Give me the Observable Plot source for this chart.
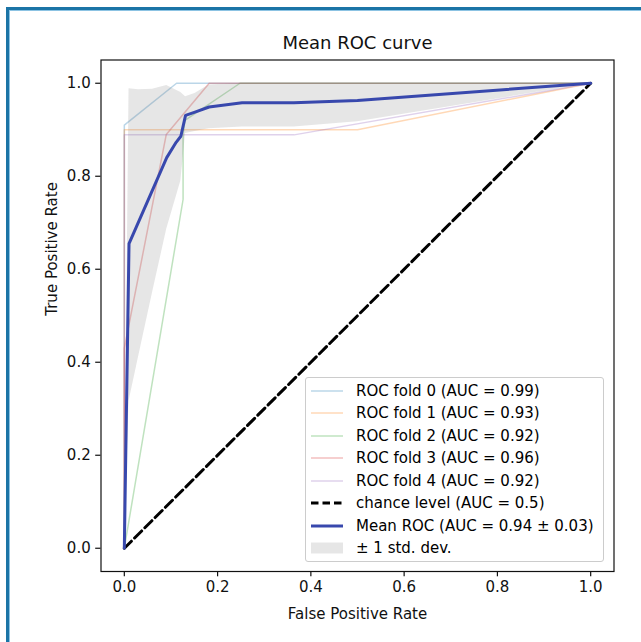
<!DOCTYPE html>
<html>
<head>
<meta charset="utf-8">
<script src="https://cdn.jsdelivr.net/npm/d3@7"></script>
<script src="https://cdn.jsdelivr.net/npm/@observablehq/plot@0.6"></script>
<style>
  html, body { margin: 0; padding: 0; background: #fff; }
  #wrap { position: relative; width: 641px; height: 642px; overflow: hidden; font-family: "DejaVu Sans", sans-serif; }
  #border { position: absolute; left: 6px; top: 7px; width: 700px; height: 700px;
            border-top: 3px solid #1b74a6; border-left: 3px solid #1b74a6; box-sizing: border-box; }
  #border2 { position: absolute; left: 9px; top: 10px; width: 700px; height: 700px;
            border-top: 1px solid #8cc3e3; border-left: 1px solid #8cc3e3; box-sizing: border-box; }
  #chart { position: absolute; left: 0; top: 0; }
  #legend { position: absolute; left: 305px; top: 377px; width: 299px; height: 185px; box-sizing: border-box;
            border: 1px solid #cccccc; border-radius: 3px; background: rgba(255,255,255,0.8);
            font-size: 15px; color: #000; }
  .row { position: absolute; left: 0; height: 22px; display: flex; align-items: center; white-space: nowrap; }
  .row svg { margin-left: 5px; margin-right: 13px; }
</style>
</head>
<body>
<div id="wrap">
  <div id="chart"></div>
  <div id="legend"></div>
  <div id="border"></div>
  <div id="border2"></div>
</div>
<script>
// ---- data ----
const titleText = "Mean ROC curve";
const xLabel = "False Positive Rate";
const yLabel = "True Positive Rate";
const tickValues = [0, 0.2, 0.4, 0.6, 0.8, 1.0];

const fold0Fpr = [0, 0, 0.112, 1];
const fold0Tpr = [0, 0.91, 1, 1];
const fold1Fpr = [0, 0, 0.5, 1];
const fold1Tpr = [0, 0.9, 0.9, 1];
const fold2Fpr = [0, 0.126, 0.126, 0.13, 0.248, 1];
const fold2Tpr = [0, 0.75, 0.89, 0.92, 1, 1];
const fold3Fpr = [0, 0, 0.09, 0.182, 1];
const fold3Tpr = [0, 0.43, 0.89, 1, 1];
const fold4Fpr = [0, 0, 0.364, 1];
const fold4Tpr = [0, 0.889, 0.889, 1];

const foldNames = ["ROC fold 0 (AUC = 0.99)", "ROC fold 1 (AUC = 0.93)", "ROC fold 2 (AUC = 0.92)",
                   "ROC fold 3 (AUC = 0.96)", "ROC fold 4 (AUC = 0.92)"];
const foldColors = ["#1f77b4", "#ff7f0e", "#2ca02c", "#d62728", "#9467bd"];

const chanceFpr = [0, 1];
const chanceTpr = [0, 1];
const chanceName = "chance level (AUC = 0.5)";

const meanFpr = [0, 0.0101, 0.0909, 0.1111, 0.1212, 0.1313, 0.1515, 0.1818, 0.2525, 0.3636, 0.5, 1];
const meanTpr = [0, 0.655, 0.84, 0.873, 0.886, 0.931, 0.938, 0.949, 0.958, 0.958, 0.963, 1];
const meanName = "Mean ROC (AUC = 0.94 \u00b1 0.03)";

const bandFpr   = [0, 0.0101, 0.0303, 0.0606, 0.0909, 0.1212, 0.1313, 0.1515, 0.1818, 0.2525, 0.3636, 0.5, 0.75, 1];
const bandLower = [0, 0.316, 0.41, 0.55, 0.686, 0.79, 0.892, 0.896, 0.902, 0.906, 0.906, 0.917, 0.958, 1];
const bandUpper = [0, 0.988, 0.986, 0.987, 0.995, 0.98, 0.971, 0.978, 0.996, 1, 1, 1, 1, 1];
const bandName = "\u00b1 1 std. dev.";

// ---- tables ----
const folds = [[fold0Fpr, fold0Tpr], [fold1Fpr, fold1Tpr], [fold2Fpr, fold2Tpr], [fold3Fpr, fold3Tpr], [fold4Fpr, fold4Tpr]];
const foldRows = folds.flatMap(([f, t], k) => f.map((v, i) => ({fold: k, fpr: v, tpr: t[i]})));
const chanceRows = chanceFpr.map((v, i) => ({fpr: v, tpr: chanceTpr[i]}));
const meanRows = meanFpr.map((v, i) => ({fpr: v, tpr: meanTpr[i]}));
const bandRows = bandFpr.map((v, i) => ({fpr: v, lo: bandLower[i], hi: bandUpper[i]}));

const ink = "#111";
const plot = Plot.plot({
  width: 641, height: 642,
  marginLeft: 100.5, marginRight: 27.5, marginTop: 59.5, marginBottom: 71,
  style: {fontFamily: "DejaVu Sans", fontSize: "15px", color: ink, background: "transparent"},
  x: {domain: [-0.05, 1.05]},
  y: {domain: [-0.05, 1.05]},
  marks: [
    ...folds.map((_, k) => Plot.line(foldRows.filter(d => d.fold === k), {
      x: "fpr", y: "tpr", stroke: foldColors[k], strokeOpacity: 0.3, strokeWidth: 1.5})),
    Plot.line(chanceRows, {x: "fpr", y: "tpr", stroke: "#000", strokeWidth: 3, strokeDasharray: "10,4.5"}),
    Plot.areaY(bandRows, {x: "fpr", y1: "lo", y2: "hi", fill: "#808080", fillOpacity: 0.2}),
    Plot.line(meanRows, {x: "fpr", y: "tpr", stroke: "#3848ad", strokeWidth: 3}),
    Plot.frame({stroke: ink, strokeWidth: 1.2}),
    Plot.axisX({ticks: tickValues, tickFormat: d => d.toFixed(1), tickSize: 5.3, tickPadding: 5, label: null, fontSize: 15, strokeWidth: 1.2}),
    Plot.axisY({ticks: tickValues, tickFormat: d => d.toFixed(1), tickSize: 5.3, tickPadding: 5, label: null, fontSize: 15, strokeWidth: 1.2}),
    Plot.text([titleText], {text: d => d, frameAnchor: "top", dy: -16.5, lineAnchor: "middle", fontSize: 18, fill: ink}),
    Plot.text([xLabel], {text: d => d, frameAnchor: "bottom", dy: 42.5, lineAnchor: "middle", fontSize: 15, fill: ink}),
    Plot.text([yLabel], {text: d => d, frameAnchor: "left", dx: -49, rotate: -90, lineAnchor: "middle", fontSize: 15, fill: ink})
  ]
});
document.getElementById("chart").appendChild(plot);

// ---- legend ----
const legend = document.getElementById("legend");
const entries = [
  ...foldNames.map((n, k) => ({name: n, kind: "line", color: foldColors[k], opacity: 0.3, width: 1.5})),
  {name: chanceName, kind: "dash", color: "#000", opacity: 1, width: 3},
  {name: meanName, kind: "line", color: "#3848ad", opacity: 1, width: 3},
  {name: bandName, kind: "patch", color: "#808080", opacity: 0.2}
];
entries.forEach((e, i) => {
  const row = document.createElement("div");
  row.className = "row";
  row.style.top = (1.5 + 22.5 * i) + "px";
  const ns = "http://www.w3.org/2000/svg";
  const svg = document.createElementNS(ns, "svg");
  svg.setAttribute("width", 32); svg.setAttribute("height", 14);
  if (e.kind === "patch") {
    const r = document.createElementNS(ns, "rect");
    r.setAttribute("x", 0); r.setAttribute("y", 1.5); r.setAttribute("width", 32); r.setAttribute("height", 11);
    r.setAttribute("fill", e.color); r.setAttribute("fill-opacity", e.opacity);
    svg.appendChild(r);
  } else {
    const l = document.createElementNS(ns, "line");
    l.setAttribute("x1", 0); l.setAttribute("x2", 32); l.setAttribute("y1", 7); l.setAttribute("y2", 7);
    l.setAttribute("stroke", e.color); l.setAttribute("stroke-opacity", e.opacity);
    l.setAttribute("stroke-width", e.width);
    if (e.kind === "dash") l.setAttribute("stroke-dasharray", "7.5,4");
    svg.appendChild(l);
  }
  row.appendChild(svg);
  const t = document.createElement("span");
  t.textContent = e.name;
  row.appendChild(t);
  legend.appendChild(row);
});
</script>
</body>
</html>
